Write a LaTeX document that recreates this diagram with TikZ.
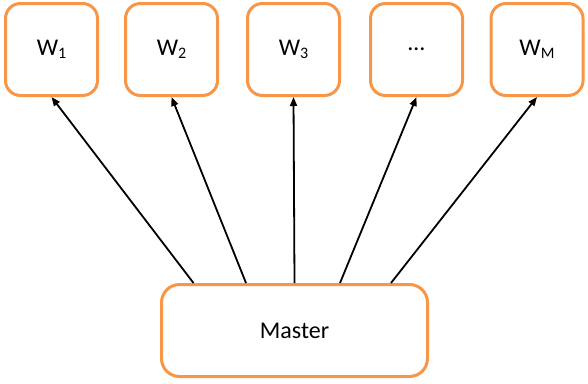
\documentclass[tikz,border=0pt]{standalone}
\usepackage{fontspec}
\setmainfont{Carlito}
\usetikzlibrary{arrows.meta}
\definecolor{boxorange}{HTML}{F79646}
\tikzset{
  worker/.style={draw=boxorange, line width=3pt, rounded corners=15pt, fill=white,
    minimum width=92pt, minimum height=92pt, inner sep=0pt, font=\fontsize{24}{26}\selectfont},
  master/.style={draw=boxorange, line width=3pt, rounded corners=18pt, fill=white,
    minimum width=266pt, minimum height=92pt, inner sep=0pt, font=\fontsize{24}{26}\selectfont},
  conn/.style={line width=1.8pt, -{Triangle[length=9pt,width=7pt]}}
}
\newcommand{\wsub}[1]{W\raisebox{-3.5pt}{\fontsize{16}{17}\selectfont #1}}
\begin{document}
\begin{tikzpicture}[x=1pt,y=-1pt]
\useasboundingbox (0,0) rectangle (588,383);
\node[worker] (w1) at (51.5,49.5) {\wsub{1}};
\node[worker] (w2) at (171.5,49.5) {\wsub{2}};
\node[worker] (w3) at (293.5,49.5) {\wsub{3}};
\node[worker] (w4) at (416.5,49.5) {…};
\node[worker] (w5) at (537,49.5) {\wsub{M}};
\node[master] (m) at (294.5,330.5) {Master};
\draw[conn] ([xshift=-101pt]m.north) -- (w1.south);
\draw[conn] ([xshift=-48.5pt]m.north) -- (w2.south);
\draw[conn] (m.north) -- (w3.south);
\draw[conn] ([xshift=45.5pt]m.north) -- (w4.south);
\draw[conn] ([xshift=96.5pt]m.north) -- (w5.south);
\end{tikzpicture}
\end{document}
